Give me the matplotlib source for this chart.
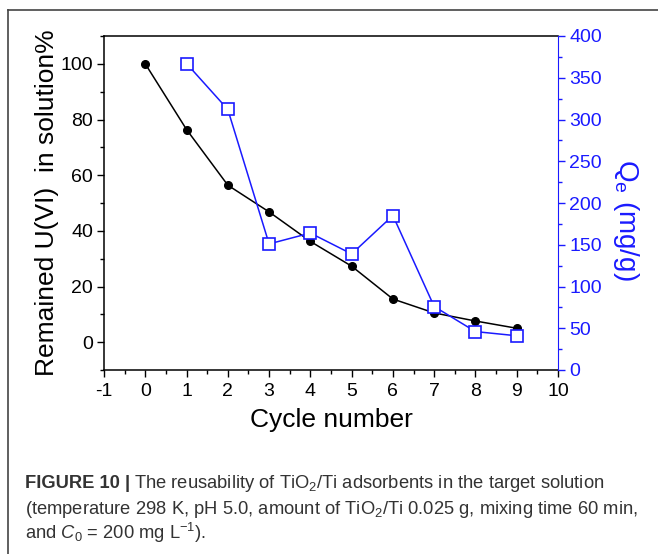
import matplotlib.pyplot as plt
import numpy as np
from matplotlib.lines import Line2D
from matplotlib.ticker import MultipleLocator

plt.rcParams['font.family'] = ['Liberation Sans', 'DejaVu Sans']
plt.rcParams['mathtext.fontset'] = 'custom'
plt.rcParams['mathtext.rm'] = 'Liberation Sans'
plt.rcParams['mathtext.it'] = 'Liberation Sans:italic'
plt.rcParams['axes.unicode_minus'] = False

# data
cycles = [0, 1, 2, 3, 4, 5, 6, 7, 8, 9]
remained = [100, 76.4, 56.4, 46.8, 36.2, 27.3, 15.5, 10.5, 7.6, 5.0]
qe_cycles = [1, 2, 3, 4, 5, 6, 7, 8, 9]
qe = [367, 312, 151, 164, 139, 185, 76, 46, 41]

blue = '#1a1aff'

fig = plt.figure(figsize=(6.58, 5.54), dpi=100)
W, H = 658, 554
ax = fig.add_axes([104 / W, 1 - 370 / H, (558 - 104) / W, (370 - 36) / H])
ax2 = ax.twinx()

ax.plot(cycles, remained, '-o', color='black', lw=1.1, ms=5.5, zorder=3)
ax2.plot(qe_cycles, qe, '-s', color=blue, lw=1.1, ms=9, mfc='white',
         mec=blue, mew=1.2, zorder=3)

ax.set_xlim(-1, 10)
ax.set_ylim(-10, 110)
ax2.set_ylim(0, 400)

ax.xaxis.set_major_locator(MultipleLocator(1))
ax.xaxis.set_minor_locator(MultipleLocator(0.5))
ax.yaxis.set_major_locator(MultipleLocator(20))
ax.yaxis.set_minor_locator(MultipleLocator(10))
ax2.yaxis.set_major_locator(MultipleLocator(50))
ax2.yaxis.set_minor_locator(MultipleLocator(25))

ax.tick_params(axis='both', which='major', direction='out', length=5,
               width=1, labelsize=14, pad=3)
ax.tick_params(axis='both', which='minor', direction='out', length=3, width=1)
ax.tick_params(axis='x', pad=4)
ax2.tick_params(axis='y', which='major', direction='out', length=5, width=1,
                labelsize=14, colors=blue, pad=3)
ax2.tick_params(axis='y', which='minor', direction='out', length=3, width=1,
                colors=blue)

for s in ['left', 'bottom', 'top']:
    ax2.spines[s].set_visible(False)
ax2.spines['right'].set_color(blue)
ax.spines['right'].set_visible(False)
for s in ['left', 'bottom', 'top']:
    ax.spines[s].set_linewidth(1.1)

ax.set_xlabel('Cycle number', fontsize=19, labelpad=6)
ax.set_ylabel('Remained U(VI)  in solution%', fontsize=19)
ax.yaxis.set_label_coords(-0.10, 0.5)
ax2.set_ylabel('Q$_\\mathrm{e}$ (mg/g)', fontsize=20, color=blue,
               rotation=270, va='center', ha='center')
ax2.yaxis.set_label_coords(1.15, 0.45)

# border frame around the figure panel
edge = '#444444'
fig.add_artist(Line2D([8 / W, 8 / W], [0, 1 - 10 / H], color=edge, lw=1.2))
fig.add_artist(Line2D([8 / W, 1], [1 - 10 / H, 1 - 10 / H], color=edge, lw=1.2))

# caption
cap = '#333333'
fs = 13.2
x0 = 25 / W
t = fig.text(x0, 1 - 484 / H, 'FIGURE 10 |', fontsize=fs, fontweight='bold',
             color=cap, va='center')
fig.canvas.draw()
bb = t.get_window_extent()
x1 = (bb.x1 + 4) / fig.bbox.width
fig.text(x1, 1 - 484 / H,
         'The reusability of TiO$_2$/Ti adsorbents in the target solution',
         fontsize=fs, color=cap, va='center')
fig.text(x0, 1 - 509 / H,
         '(temperature 298 K, pH 5.0, amount of TiO$_2$/Ti 0.025 g, mixing time 60 min,',
         fontsize=fs, color=cap, va='center')
fig.text(x0, 1 - 533 / H,
         'and $C_0$ = 200 mg L$^{-1}$).',
         fontsize=fs, color=cap, va='center')

fig.savefig('out.png', dpi=100)
